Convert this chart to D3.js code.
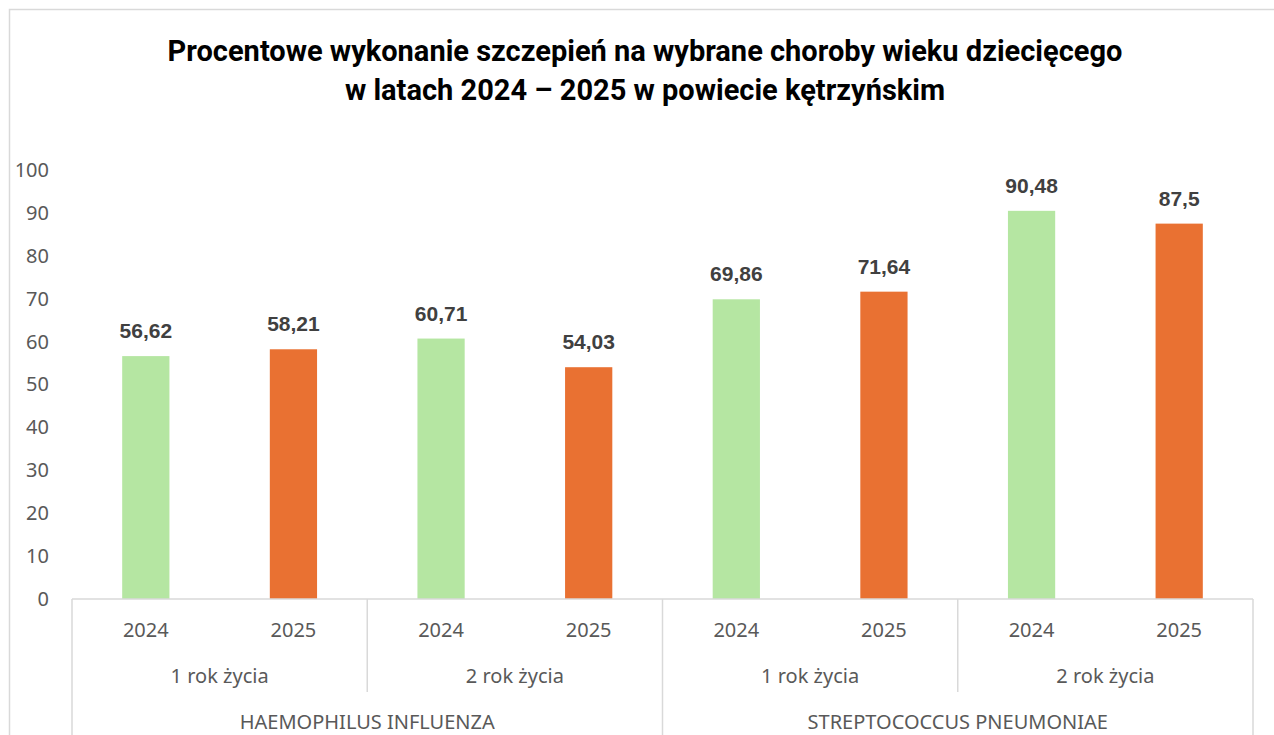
<html><head>
<meta charset="utf-8">
<script src="https://d3js.org/d3.v7.min.js"></script>
<style>
  body { margin: 0; background: #fff; }
</style>
</head>
<body>
<script>
  // data
  var diseases = ["HAEMOPHILUS INFLUENZA", "STREPTOCOCCUS PNEUMONIAE"];
  var ages = ["1 rok życia", "2 rok życia"];
  var years = ["2024", "2025"];
  var values2024 = [56.62, 60.71, 69.86, 90.48];
  var values2025 = [58.21, 54.03, 71.64, 87.5];
  var yTicks = [0, 10, 20, 30, 40, 50, 60, 70, 80, 90, 100];
  var titleLines = ["Procentowe wykonanie szczepień na wybrane choroby wieku dziecięcego",
                    "w latach 2024 – 2025 w powiecie kętrzyńskim"];

  var width = 1274, height = 735;
  var colors = {"2024": "#b5e6a2", "2025": "#e97132"};

  // flatten into slots
  var clusters = [];
  diseases.forEach(function(d) {
    ages.forEach(function(a) { clusters.push({disease: d, age: a}); });
  });
  var bars = [];
  clusters.forEach(function(c, i) {
    bars.push({key: i + "-2024", year: years[0], value: values2024[i], cluster: i});
    bars.push({key: i + "-2025", year: years[1], value: values2025[i], cluster: i});
  });

  var svg = d3.select("body").append("svg")
    .attr("width", width).attr("height", height);

  svg.append("rect").attr("x", 9.5).attr("y", 9.5)
    .attr("width", 1400).attr("height", 900)
    .attr("fill", "#fff").attr("stroke", "#d9d9d9").attr("stroke-width", 1.5);

  var x = d3.scaleBand().domain(bars.map(function(d) { return d.key; }))
    .range([72, 1253]).paddingInner(0.68).paddingOuter(0.34);
  var xc = d3.scaleBand().domain(d3.range(clusters.length)).range([72, 1253]);
  var xd = d3.scaleBand().domain(diseases).range([72, 1253]);
  var y = d3.scaleLinear().domain([0, 100]).range([599, 170]);

  // title
  svg.append("g").selectAll("text").data(titleLines).enter().append("text")
    .attr("x", 645).attr("y", function(d, i) { return 61 + i * 39; })
    .attr("text-anchor", "middle")
    .style("font-family", "Roboto, sans-serif")
    .style("font-weight", "bold").style("font-size", "29px")
    .style("fill", "#000")
    .text(function(d) { return d; });

  // y axis
  var yAxis = svg.append("g").attr("transform", "translate(49,0)")
    .call(d3.axisLeft(y).tickValues(yTicks).tickSize(0).tickPadding(0));
  yAxis.select(".domain").remove();
  yAxis.selectAll("text").style("font-family", "'Noto Sans', sans-serif")
    .style("font-size", "20px").style("fill", "#595959");

  // bars
  svg.append("g").selectAll("rect").data(bars).enter().append("rect")
    .attr("x", function(d) { return x(d.key); })
    .attr("y", function(d) { return y(d.value); })
    .attr("width", x.bandwidth())
    .attr("height", function(d) { return y(0) - y(d.value); })
    .attr("fill", function(d) { return colors[d.year]; });

  // data labels
  svg.append("g").selectAll("text").data(bars).enter().append("text")
    .attr("x", function(d) { return x(d.key) + x.bandwidth() / 2; })
    .attr("y", function(d) { return y(d.value) - 18; })
    .attr("text-anchor", "middle")
    .style("font-family", "'Liberation Sans', Arial, sans-serif")
    .style("font-weight", "bold").style("font-size", "21px")
    .style("fill", "#404040")
    .text(function(d) { return String(d.value).replace(".", ","); });

  // category axis lines
  var axisG = svg.append("g").attr("stroke", "#d9d9d9").attr("stroke-width", 1.5);
  axisG.append("line").attr("x1", 72).attr("x2", 1253).attr("y1", 599).attr("y2", 599);
  // separators between age groups inside a disease (short)
  clusters.forEach(function(c, i) {
    if (i % 2 === 0) {
      var xx = xc(i) + xc.bandwidth();
      axisG.append("line").attr("x1", xx).attr("x2", xx).attr("y1", 599).attr("y2", 692);
    }
  });
  // disease separators (full height)
  [72].concat(diseases.map(function(d) { return xd(d) + xd.bandwidth(); })).forEach(function(xx) {
    axisG.append("line").attr("x1", xx).attr("x2", xx).attr("y1", 599).attr("y2", 740);
  });

  var labelStyle = function(sel) {
    sel.attr("text-anchor", "middle")
      .style("font-family", "'Noto Sans', sans-serif")
      .style("font-size", "20px").style("fill", "#595959");
  };

  // year labels
  svg.append("g").selectAll("text").data(bars).enter().append("text")
    .attr("x", function(d) { return x(d.key) + x.bandwidth() / 2; })
    .attr("y", 637)
    .call(labelStyle)
    .text(function(d) { return d.year; });

  // age labels
  svg.append("g").selectAll("text").data(clusters).enter().append("text")
    .attr("x", function(d, i) { return xc(i) + xc.bandwidth() / 2; })
    .attr("y", 683)
    .call(labelStyle)
    .text(function(d) { return d.age; });

  // disease labels
  svg.append("g").selectAll("text").data(diseases).enter().append("text")
    .attr("x", function(d) { return xd(d) + xd.bandwidth() / 2; })
    .attr("y", 729)
    .call(labelStyle)
    .text(function(d) { return d; });
</script>
</body></html>
